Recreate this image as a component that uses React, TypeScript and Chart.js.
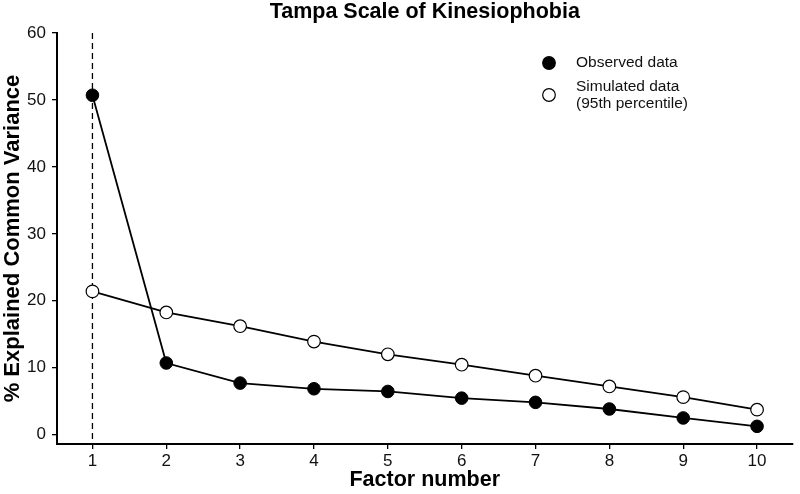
import React, { useEffect, useRef } from "react";
import { Chart, registerables } from "chart.js";

Chart.register(...registerables);

const factors = [1, 2, 3, 4, 5, 6, 7, 8, 9, 10];
const observed = [50.7, 10.7, 7.7, 6.85, 6.45, 5.45, 4.82, 3.83, 2.49, 1.24];
const simulated = [21.4, 18.25, 16.2, 13.9, 12.0, 10.45, 8.8, 7.2, 5.6, 3.73];
const yTicks = [0, 10, 20, 30, 40, 50, 60];
const chartTitle = "Tampa Scale of Kinesiophobia";
const xTitle = "Factor number";
const yTitle = "% Explained Common Variance";
const legendLabels = [["Observed data"], ["Simulated data", "(95th percentile)"]];
const cutoffFactor = 1;

const FONT = "'Liberation Sans', Arial, sans-serif";

const overlay = {
  id: "overlay",
  beforeDatasetsDraw(chart: any) {
    const { ctx, chartArea, scales } = chart;
    const x = scales.x.getPixelForValue(cutoffFactor);
    const yTop = scales.y.getPixelForValue(yTicks[yTicks.length - 1]);
    ctx.save();
    ctx.strokeStyle = "#000";
    ctx.lineWidth = 1.3;
    ctx.setLineDash([6, 4]);
    ctx.beginPath();
    ctx.moveTo(x, yTop);
    ctx.lineTo(x, chartArea.bottom);
    ctx.stroke();
    ctx.restore();
  },
  afterDraw(chart: any) {
    const { ctx, chartArea } = chart;
    ctx.save();
    // title
    ctx.fillStyle = "#000";
    ctx.font = `bold 21.5px ${FONT}`;
    ctx.textAlign = "center";
    ctx.textBaseline = "middle";
    ctx.fillText(chartTitle, (chartArea.left + chartArea.right) / 2, 12);
    // legend
    const cx = 549;
    const rows = [63, 95];
    ctx.font = `15.5px ${FONT}`;
    ctx.textAlign = "left";
    legendLabels.forEach((lines, i) => {
      const cy = rows[i];
      ctx.beginPath();
      ctx.arc(cx, cy, 6.3, 0, Math.PI * 2);
      ctx.fillStyle = i === 0 ? "#000" : "#fff";
      ctx.fill();
      ctx.lineWidth = 1.2;
      ctx.strokeStyle = "#000";
      ctx.stroke();
      ctx.fillStyle = "#111";
      const lh = 16.7;
      const start = cy - ((lines.length - 1) * lh) / 2;
      lines.forEach((t, j) => ctx.fillText(t, 576, start + j * lh));
    });
    ctx.restore();
  },
};

export default function App() {
  const ref = useRef<HTMLCanvasElement>(null);
  useEffect(() => {
    if (!ref.current) return;
    const chart = new Chart(ref.current, {
      type: "line",
      data: {
        datasets: [
          {
            label: "Observed data",
            data: factors.map((f, i) => ({ x: f, y: observed[i] })),
            borderColor: "#000",
            borderWidth: 1.8,
            pointRadius: 6.3,
            pointBackgroundColor: "#000",
            pointBorderColor: "#000",
            pointBorderWidth: 1,
            tension: 0,
            clip: false as any,
          },
          {
            label: "Simulated data (95th percentile)",
            data: factors.map((f, i) => ({ x: f, y: simulated[i] })),
            borderColor: "#000",
            borderWidth: 1.8,
            pointRadius: 6.3,
            pointBackgroundColor: "#fff",
            pointBorderColor: "#000",
            pointBorderWidth: 1.2,
            tension: 0,
            clip: false as any,
          },
        ],
      },
      options: {
        responsive: false,
        animation: false,
        layout: { padding: { top: 33, right: 3, left: 0, bottom: 0 } },
        plugins: {
          legend: { display: false },
          title: { display: false },
          tooltip: { enabled: false },
        },
        scales: {
          x: {
            type: "linear",
            position: "bottom",
            min: 0.52,
            max: 10.48,
            afterBuildTicks: (axis: any) => {
              axis.ticks = factors.map((v) => ({ value: v }));
            },
            afterFit: (axis: any) => {
              axis.height = 50;
            },
            grid: {
              display: true,
              drawOnChartArea: false,
              drawTicks: true,
              tickLength: 5,
              color: "#000",
              lineWidth: 1.3,
            },
            border: { display: true, color: "#000", width: 2 },
            ticks: {
              color: "#111",
              font: { family: FONT, size: 17 },
              padding: 2,
              autoSkip: false,
              maxRotation: 0,
              callback: (v: any) => String(v),
            },
            title: {
              display: true,
              text: xTitle,
              color: "#000",
              font: { family: FONT, size: 21.5, weight: "bold" },
              padding: { top: 0, bottom: 1 },
            },
          },
          y: {
            type: "linear",
            min: -1.4,
            max: 60,
            afterBuildTicks: (axis: any) => {
              axis.ticks = yTicks.map((v) => ({ value: v }));
            },
            afterFit: (axis: any) => {
              axis.width = 57;
            },
            grid: {
              display: true,
              drawOnChartArea: false,
              drawTicks: true,
              tickLength: 5,
              color: "#000",
              lineWidth: 1.3,
            },
            border: { display: true, color: "#000", width: 2 },
            ticks: {
              color: "#111",
              font: { family: FONT, size: 17 },
              padding: 6,
              callback: (v: any) => String(v),
            },
            title: {
              display: true,
              text: yTitle,
              color: "#000",
              font: { family: FONT, size: 22, weight: "bold" },
              padding: { top: 0, bottom: 0 },
            },
          },
        },
      },
      plugins: [overlay],
    });
    return () => chart.destroy();
  }, []);
  return (
    <div style={{ position: "absolute", left: 0, top: 0, width: 800, height: 494 }}>
      <canvas ref={ref} width={800} height={494} style={{ display: "block" }} />
    </div>
  );
}
